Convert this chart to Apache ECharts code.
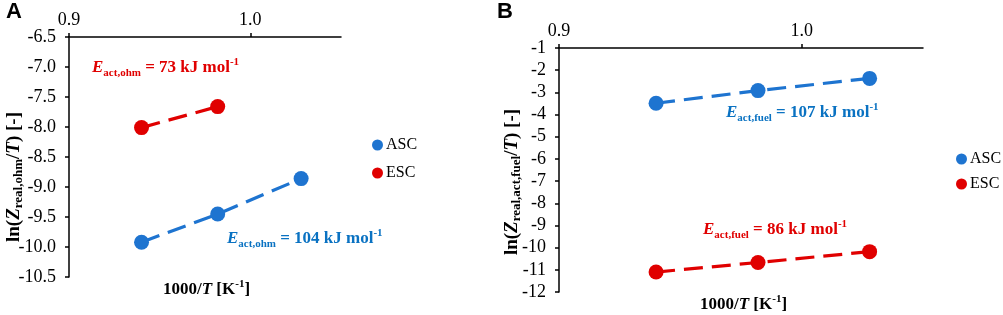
<!DOCTYPE html>
<html><head><meta charset="utf-8">
<script src="https://cdn.jsdelivr.net/npm/echarts@6/dist/echarts.min.js"></script>
<style>html,body{margin:0;padding:0;background:#fff}#c{width:1003px;height:315px}</style>
</head><body><div id="c"></div>
<script>
// ---- data ----
const xTemps = [0.940, 0.982, 1.028];           // 1000/T [K^-1]
const ascOhm = [-9.92, -9.45, -8.86];            // panel A, ASC
const escOhm = [-8.01, -7.66];                   // panel A, ESC
const ascFuel = [-3.49, -2.92, -2.37];           // panel B, ASC
const escFuel = [-11.10, -10.67, -10.18];        // panel B, ESC
const xTickValues = [0.9, 1.0];
const seriesNames = ['ASC', 'ESC'];

const BLUE = '#1E74D0', RED = '#E00000';
const TXT_BLUE = '#0A72C2', TXT_RED = '#E00000';
const SERIF = '"Liberation Serif", "Times New Roman", serif';

const pts = (xs, ys) => ys.map((y, i) => [xs[i], y]);

function richStyles(color, size, subRatio) {
  const s = Math.round(size * (subRatio || 0.65));
  const base = {fontFamily: SERIF, fontWeight: 'bold', color, fill: color};
  return {
    e: Object.assign({}, base, {fontStyle: 'italic', fontSize: size, lineHeight: 22}),
    n: Object.assign({}, base, {fontSize: size, lineHeight: 22}),
    sub: Object.assign({}, base, {fontSize: s, lineHeight: 10, verticalAlign: 'bottom'}),
    sup: Object.assign({}, base, {fontSize: s, lineHeight: 10, verticalAlign: 'top'})
  };
}

function xAxisCfg(gi) {
  return {
    gridIndex: gi, type: 'value', position: 'top', min: 0.9, max: 1.05, interval: 0.1,
    axisLine: {show: true, lineStyle: {color: '#000', width: 1.5}},
    axisTick: {show: true, length: 4, lineStyle: {color: '#000', width: 1.5}, customValues: xTickValues},
    axisLabel: {fontFamily: SERIF, fontSize: 18, color: '#000', margin: 8, customValues: xTickValues,
      formatter: v => v.toFixed(1)},
    splitLine: {show: false}
  };
}

function yAxisCfg(gi, min, max, interval, dec) {
  return {
    gridIndex: gi, type: 'value', min, max, interval,
    axisLine: {show: true, onZero: false, lineStyle: {color: '#000', width: 1.5}},
    axisTick: {show: true, length: 4, lineStyle: {color: '#000', width: 1.5}},
    axisLabel: {fontFamily: SERIF, fontSize: 18, color: '#000', margin: 13, formatter: v => v.toFixed(dec)},
    splitLine: {show: false}
  };
}

function lineSeries(name, data, color, xi, yi) {
  return {
    name, type: 'line', xAxisIndex: xi, yAxisIndex: yi, data,
    symbol: 'circle', symbolSize: 15, showSymbol: true,
    itemStyle: {color},
    lineStyle: {color, width: 3.2, type: [19, 9]},
    emphasis: {disabled: true}, animation: false
  };
}

function legendCfg(left, top, gap) {
  return {data: seriesNames, orient: 'vertical', left, top, padding: 0, icon: 'circle',
    itemWidth: 11, itemHeight: 11, itemGap: gap,
    textStyle: {fontFamily: SERIF, fontSize: 16, color: '#000', padding: [0, 0, 0, -2]}, selectedMode: false};
}

function vTitle(x, y, text) {
  return {type: 'text', x, y, rotation: Math.PI / 2,
    style: {text, align: 'center', verticalAlign: 'middle', rich: richStyles('#000', 19, 0.7)}};
}

const chart = echarts.init(document.getElementById('c'), null, {renderer: 'canvas'});
chart.setOption({
  animation: false,
  backgroundColor: '#fff',
  grid: [
    {left: 69, top: 37, width: 272, height: 240},
    {left: 559, top: 48, width: 364, height: 244}
  ],
  xAxis: [xAxisCfg(0), xAxisCfg(1)],
  yAxis: [yAxisCfg(0, -10.5, -6.5, 0.5, 1), yAxisCfg(1, -12, -1, 1, 0)],
  legend: [legendCfg(372, 137, 12), legendCfg(956, 151, 9)],
  series: [
    lineSeries('ASC', pts(xTemps, ascOhm), BLUE, 0, 0),
    lineSeries('ESC', pts(xTemps, escOhm), RED, 0, 0),
    lineSeries('ASC', pts(xTemps, ascFuel), BLUE, 1, 1),
    lineSeries('ESC', pts(xTemps, escFuel), RED, 1, 1)
  ],
  graphic: [
    {type: 'text', left: 6, top: 1, style: {text: 'A', font: 'bold 22px "Liberation Sans", Arial, sans-serif', fill: '#000'}},
    {type: 'text', left: 497, top: 1, style: {text: 'B', font: 'bold 22px "Liberation Sans", Arial, sans-serif', fill: '#000'}},
    vTitle(14, 177, '{n|ln(}{e|Z}{sub|real,ohm}{n|/}{e|T}{n|) [-]}'),
    vTitle(512, 182, '{n|ln(}{e|Z}{sub|real,act,fuel}{n|/}{e|T}{n|) [-]}'),
    {type: 'text', left: 92, top: 57, style: {text: '{e|E}{sub|act,ohm}{n| = 73 kJ mol}{sup|-1}', rich: richStyles(TXT_RED, 17)}},
    {type: 'text', left: 227, top: 228, style: {text: '{e|E}{sub|act,ohm}{n| = 104 kJ mol}{sup|-1}', rich: richStyles(TXT_BLUE, 17)}},
    {type: 'text', left: 726, top: 102, style: {text: '{e|E}{sub|act,fuel}{n| = 107 kJ mol}{sup|-1}', rich: richStyles(TXT_BLUE, 17)}},
    {type: 'text', left: 703, top: 219, style: {text: '{e|E}{sub|act,fuel}{n| = 86 kJ mol}{sup|-1}', rich: richStyles(TXT_RED, 17)}},
    {type: 'text', left: 163, top: 279, style: {text: '{n|1000/}{e|T}{n| [K}{sup|-1}{n|]}', rich: richStyles('#000', 17)}},
    {type: 'text', left: 700, top: 294, style: {text: '{n|1000/}{e|T}{n| [K}{sup|-1}{n|]}', rich: richStyles('#000', 17)}}
  ]
});
</script></body></html>
